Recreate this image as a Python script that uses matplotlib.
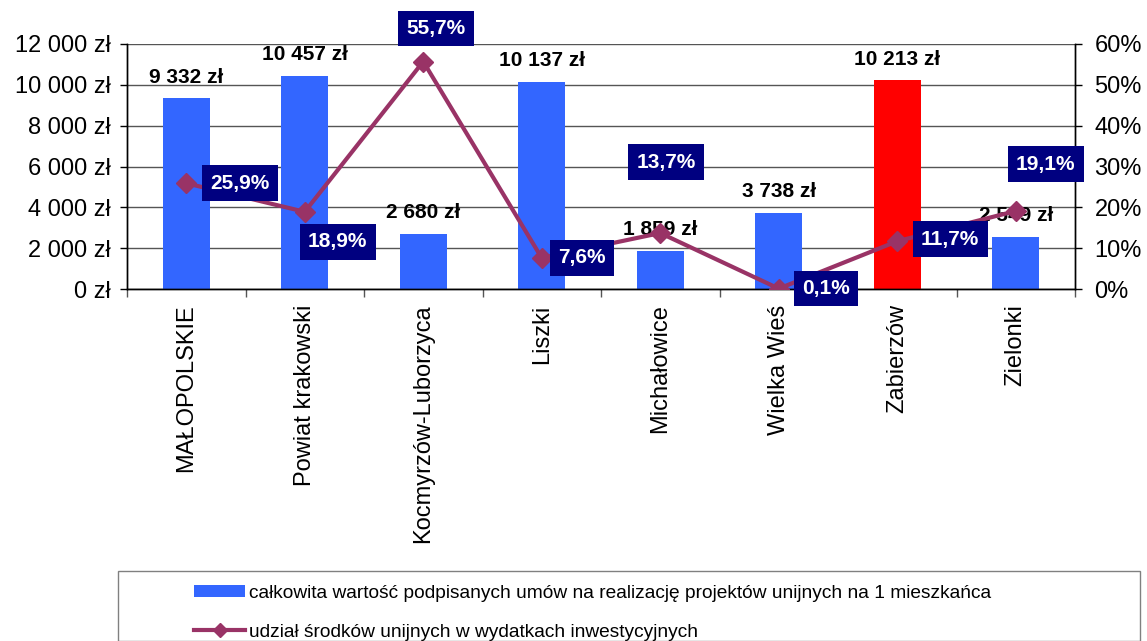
import matplotlib
matplotlib.use("Agg")
import matplotlib.pyplot as plt
from matplotlib.patches import Patch, Rectangle
from matplotlib.lines import Line2D
from matplotlib.ticker import FuncFormatter, FixedLocator

plt.rcParams['font.family'] = ['Liberation Sans', 'DejaVu Sans']

categories = ["MAŁOPOLSKIE", "Powiat krakowski", "Kocmyrzów-Luborzyca", "Liszki",
              "Michałowice", "Wielka Wieś", "Zabierzów", "Zielonki"]
values_zl = [9332, 10457, 2680, 10137, 1859, 3738, 10213, 2549]
share_pct = [25.9, 18.9, 55.7, 7.6, 13.7, 0.1, 11.7, 19.1]
bar_label_texts = ["9 332 zł", "10 457 zł", "2 680 zł", "10 137 zł",
                   "1 859 zł", "3 738 zł", "10 213 zł", "2 549 zł"]
pct_label_texts = ["25,9%", "18,9%", "55,7%", "7,6%", "13,7%", "0,1%", "11,7%", "19,1%"]
highlight = "Zabierzów"
legend_labels = ["całkowita wartość podpisanych umów na realizację projektów unijnych na 1 mieszkańca",
                 "udział środków unijnych w wydatkach inwestycyjnych"]

# label offsets (layout, in pixels: right, down)
pct_offsets_px = [(54, 0), (33, 30), (13, -33), (40, 0), (6, -71), (47, 0), (53, -2), (30, -47)]

BLUE = "#3366FF"
RED = "#FF0000"
LINE = "#993366"
NAVY = "#000080"

W, H = 1147, 641
fig = plt.figure(figsize=(W / 100, H / 100), dpi=100)
L, R, T, B = 127, 1075, 44, 289
ax = fig.add_axes([L / W, 1 - B / H, (R - L) / W, (B - T) / H])
ax2 = ax.twinx()

x = list(range(len(categories)))
colors = [RED if c == highlight else BLUE for c in categories]
ax.bar(x, values_zl, width=0.4, color=colors, zorder=2)
ax.set_xlim(-0.5, len(categories) - 0.5)
ax.set_ylim(0, 12000)
ax.set_yticks(range(0, 12001, 2000))
ax.yaxis.set_major_formatter(FuncFormatter(lambda v, p: f"{int(v):,} zł".replace(",", " ")))
ax.set_axisbelow(True)
ax.grid(axis='y', color='#555555', linewidth=1.0, zorder=0)
ax.set_xticks(x)
ax.set_xticklabels(categories, rotation=90, fontsize=17)
ax.xaxis.set_minor_locator(FixedLocator([i + 0.5 for i in range(-1, len(categories))]))
ax.tick_params(axis='x', which='major', length=0, pad=11)
ax.tick_params(axis='x', which='minor', length=6, color='#555555', width=1)
ax.tick_params(axis='y', labelsize=17, length=5, pad=7, width=1)
for s in ['top']:
    ax.spines[s].set_visible(False)
    ax2.spines[s].set_visible(False)
for s in ['left', 'bottom', 'right']:
    ax.spines[s].set_linewidth(1.0)
    ax2.spines[s].set_linewidth(1.0)

for xi, v, t in zip(x, values_zl, bar_label_texts):
    ax.annotate(t, (xi, v), xytext=(0, 8.5), textcoords='offset points',
                ha='center', va='bottom', fontsize=15, fontweight='bold', color='black', zorder=3)

ax2.plot(x, share_pct, color=LINE, linewidth=3, marker='D', markersize=10, zorder=4)
ax2.set_ylim(0, 60)
ax2.set_yticks(range(0, 61, 10))
ax2.yaxis.set_major_formatter(FuncFormatter(lambda v, p: f"{int(v)}%"))
ax2.tick_params(axis='y', labelsize=17, length=5, pad=9, width=1)

for xi, v, t, (dx, dy) in zip(x, share_pct, pct_label_texts, pct_offsets_px):
    ax2.annotate(t, (xi, v), xytext=(dx * 0.72, -dy * 0.72), textcoords='offset points',
                 ha='center', va='center', fontsize=15, fontweight='bold', color='white',
                 bbox=dict(boxstyle='square,pad=0.4', facecolor=NAVY, edgecolor='none'),
                 zorder=5)

# legend frame
fig.patches.append(Rectangle((118 / W, 0), (1140 - 118) / W, (H - 571) / H,
                             transform=fig.transFigure, facecolor='white',
                             edgecolor='#808080', linewidth=1.0, zorder=0))
handles = [Patch(facecolor=BLUE, edgecolor='none'),
           Line2D([], [], color=LINE, linewidth=3, marker='D', markersize=7)]
fig.legend(handles, legend_labels, loc='upper left',
           bbox_to_anchor=(186 / W, 1 - 577 / H), frameon=False, fontsize=13.8,
           handlelength=2.7, handleheight=0.55, handletextpad=0.2, labelspacing=1.15,
           borderaxespad=0)

fig.savefig("out.png", dpi=100)
